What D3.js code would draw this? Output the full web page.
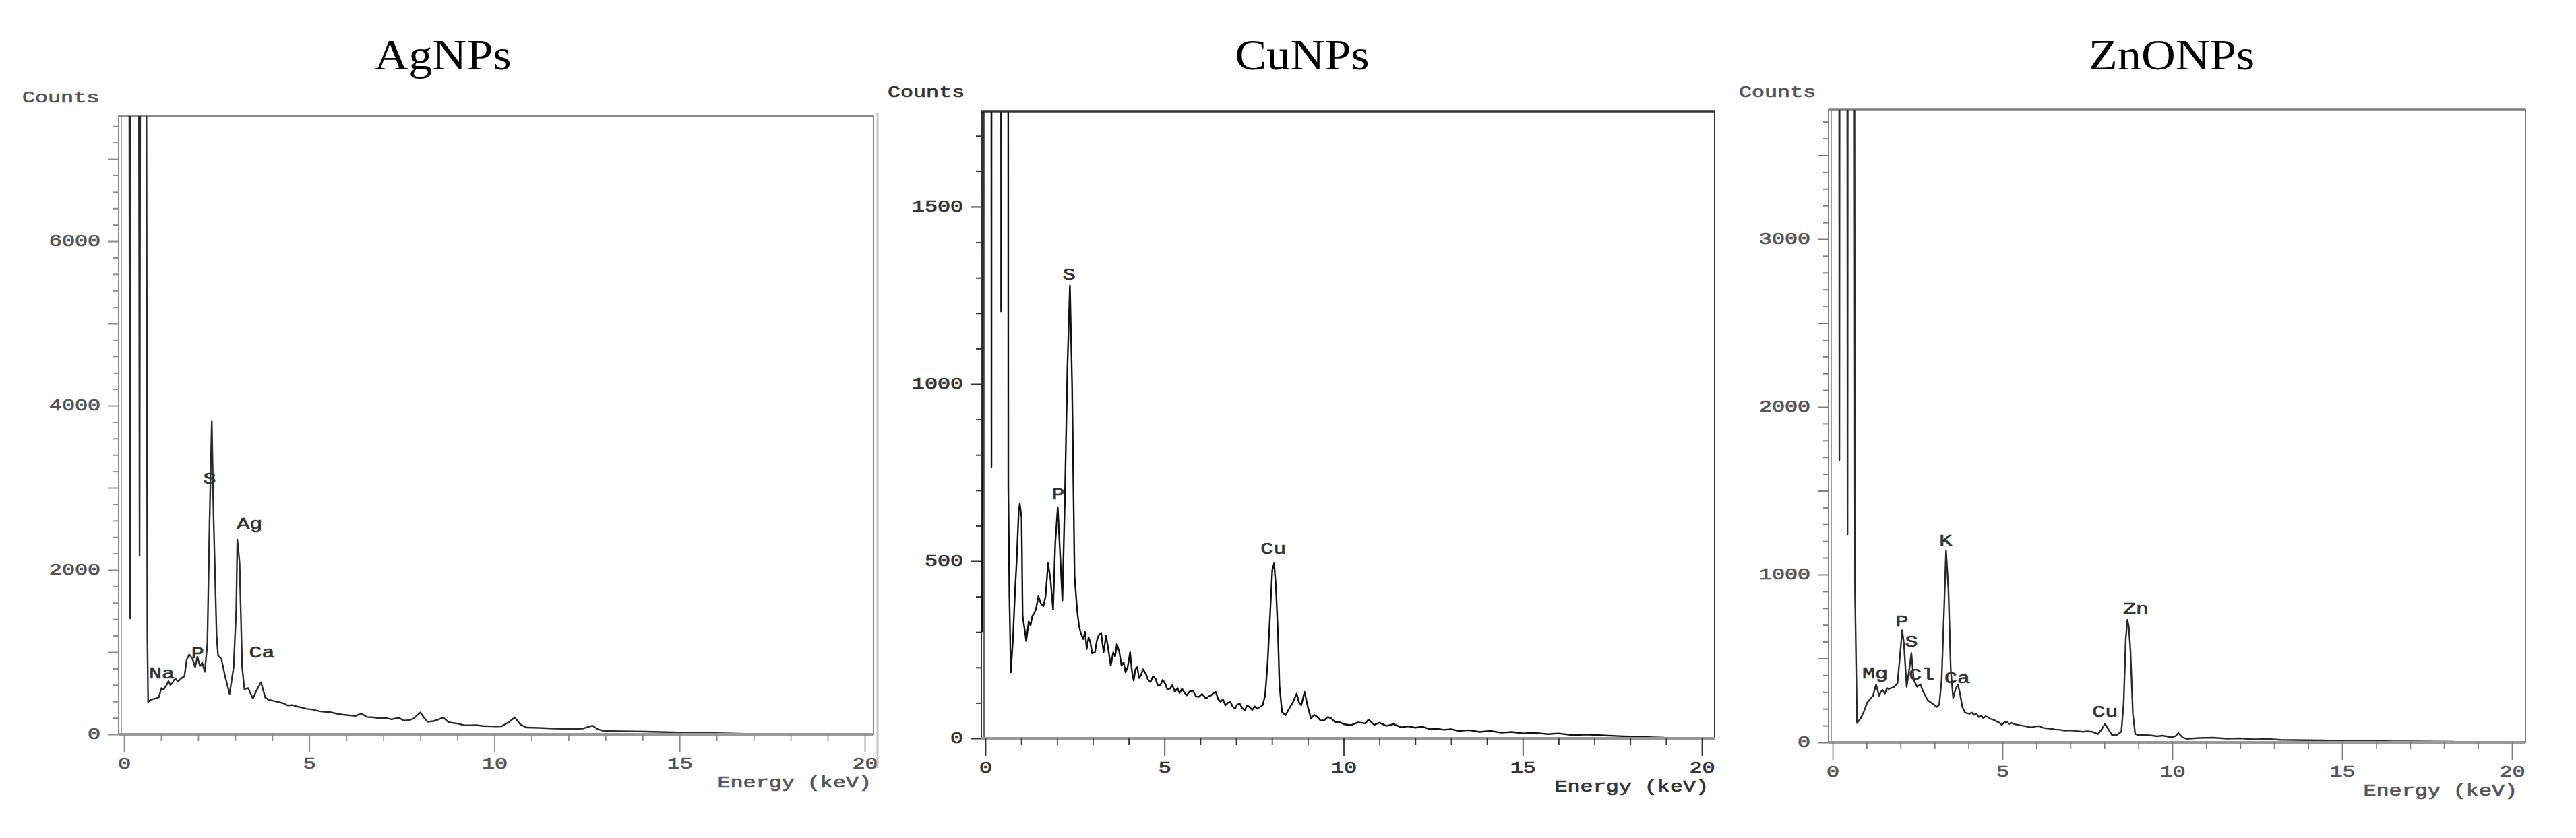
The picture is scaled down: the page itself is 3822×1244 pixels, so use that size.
<!DOCTYPE html>
<html>
<head>
<meta charset="utf-8">
<script src="https://cdn.jsdelivr.net/npm/d3@7"></script>
<style>
  html, body { margin: 0; padding: 0; background: #fff; }
  svg { display: block; }
</style>
</head>
<body>
<svg id="chart" width="3822" height="1244"></svg>
<script>
// ---------------- DATA (energy keV, counts) ----------------
const panelTitles = ["AgNPs", "CuNPs", "ZnONPs"];
const xTickLabels = [0, 5, 10, 15, 20];
const dateStamps = ["(2/4/10 04:25)", "(2/4/10 04:37)", ""];

const agSpectrum = [
  [0.00, 9000],[0.14, 9000],[0.16, 1410],[0.18, 9000],[0.40, 9000],[0.42, 2170],[0.44, 9000],
  [0.60, 9000],[0.63, 1200],[0.65, 393],[0.72, 420],[0.80, 430],[0.88, 440],[0.94, 449],
  [1.01, 562],[1.07, 545],[1.14, 590],[1.20, 647],[1.25, 600],[1.30, 619],[1.35, 660],
  [1.40, 675],[1.45, 640],[1.50, 660],[1.57, 690],[1.63, 703],[1.69, 901],[1.76, 971],
  [1.85, 915],[1.92, 816],[1.98, 943],[2.05, 830],[2.11, 872],[2.18, 760],[2.25, 1100],
  [2.31, 2600],[2.37, 3808],[2.42, 2600],[2.50, 1200],[2.54, 957],[2.63, 915],[2.73, 703],
  [2.85, 492],[2.96, 816],[3.03, 1521],[3.06, 2369],[3.12, 2086],[3.19, 816],[3.25, 548],
  [3.35, 562],[3.48, 435],[3.58, 534],[3.70, 633],[3.81, 449],[3.90, 421],[4.03, 407],
  [4.15, 395],[4.29, 379],[4.42, 350],[4.55, 355],[4.68, 336],[4.80, 325],[4.94, 308],
  [5.10, 300],[5.27, 280],[5.45, 272],[5.60, 266],[5.75, 250],[5.92, 238],[6.10, 230],
  [6.25, 223],[6.41, 252],[6.50, 225],[6.57, 209],[6.75, 205],[6.90, 195],[7.05, 200],
  [7.22, 181],[7.42, 201],[7.55, 167],[7.70, 170],[7.81, 190],[8.00, 266],[8.12, 190],
  [8.20, 152],[8.35, 160],[8.46, 175],[8.62, 203],[8.75, 150],[8.85, 139],[9.00, 130],
  [9.17, 111],[9.35, 110],[9.50, 111],[9.70, 100],[9.89, 97],[10.05, 95],[10.20, 98],
  [10.40, 150],[10.55, 205],[10.70, 120],[10.87, 82],[11.20, 78],[11.50, 72],[11.80, 68],
  [12.10, 65],[12.40, 70],[12.65, 105],[12.80, 60],[12.95, 41],[13.40, 38],[14.10, 33],
  [14.80, 25],[15.50, 18],[16.20, 12],[16.80, 6]
];

const cuSpectrum = [
  [-0.09, 300],[-0.07, 785],[-0.06, 9000],[0.15, 9000],[0.17, 766],[0.185, 9000],[0.42, 9000],
  [0.44, 1205],[0.46, 9000],[0.62, 9000],[0.64, 709],[0.67, 401],[0.71, 186],[0.77, 280],
  [0.83, 420],[0.875, 504],[0.93, 640],[0.96, 662],[1.01, 623],[1.04, 345],[1.11, 298],
  [1.14, 274],[1.21, 330],[1.26, 318],[1.31, 345],[1.36, 352],[1.41, 363],[1.48, 401],
  [1.55, 380],[1.62, 373],[1.68, 401],[1.75, 494],[1.82, 447],[1.89, 363],[1.95, 550],
  [2.02, 652],[2.09, 512],[2.15, 389],[2.22, 681],[2.29, 1045],[2.36, 1278],[2.42, 1002],
  [2.49, 457],[2.56, 363],[2.61, 320],[2.66, 298],[2.73, 280],[2.78, 300],[2.83, 252],
  [2.88, 285],[2.93, 271],[2.98, 240],[3.06, 243],[3.11, 275],[3.16, 290],[3.23, 298],
  [3.30, 243],[3.37, 290],[3.43, 252],[3.50, 205],[3.57, 243],[3.62, 230],[3.67, 266],
  [3.74, 243],[3.80, 205],[3.86, 215],[3.91, 186],[3.97, 200],[4.04, 243],[4.09, 190],
  [4.14, 163],[4.19, 195],[4.24, 201],[4.29, 170],[4.34, 177],[4.40, 195],[4.48, 182],
  [4.54, 165],[4.61, 159],[4.68, 175],[4.75, 168],[4.81, 150],[4.88, 149],[4.95, 165],
  [5.02, 154],[5.08, 138],[5.15, 140],[5.22, 150],[5.29, 131],[5.36, 142],[5.42, 128],
  [5.49, 140],[5.55, 130],[5.62, 121],[5.70, 132],[5.79, 135],[5.88, 118],[5.96, 117],
  [6.05, 125],[6.16, 112],[6.23, 118],[6.30, 121],[6.37, 128],[6.43, 131],[6.50, 110],
  [6.57, 103],[6.63, 110],[6.70, 93],[6.77, 100],[6.84, 103],[6.90, 90],[6.97, 84],
  [7.03, 95],[7.10, 98],[7.17, 85],[7.24, 79],[7.30, 92],[7.37, 89],[7.45, 80],[7.52, 90],
  [7.58, 84],[7.66, 88],[7.74, 93],[7.81, 121],[7.88, 215],[7.95, 354],[8.01, 476],
  [8.06, 494],[8.11, 429],[8.17, 290],[8.21, 149],[8.28, 75],[8.38, 65],[8.48, 84],
  [8.59, 103],[8.69, 126],[8.75, 103],[8.82, 93],[8.91, 131],[8.99, 93],[9.09, 56],
  [9.18, 66],[9.26, 61],[9.36, 50],[9.46, 51],[9.56, 60],[9.66, 56],[9.77, 45],[9.87, 47],
  [10.0, 40],[10.2, 37],[10.4, 45],[10.6, 42],[10.7, 53],[10.85, 38],[11.0, 44],[11.2, 35],
  [11.4, 40],[11.6, 31],[11.8, 34],[12.0, 30],[12.2, 33],[12.4, 26],[12.6, 27],[12.8, 24],
  [13.0, 26],[13.2, 21],[13.5, 23],[13.8, 18],[14.1, 21],[14.4, 16],[14.7, 18],[15.0, 14],
  [15.3, 16],[15.7, 12],[16.0, 14],[16.4, 9],[16.8, 11],[17.3, 8],[17.8, 6],[18.2, 5],
  [18.6, 3],[18.95, 2]
];

const znSpectrum = [
  [0.00, 9000],[0.18, 9000],[0.20, 1683],[0.22, 9000],[0.42, 9000],[0.44, 1241],[0.46, 9000],
  [0.62, 9000],[0.66, 900],[0.72, 115],[0.82, 142],[0.92, 183],[1.02, 237],[1.13, 264],
  [1.19, 278],[1.28, 345],[1.37, 278],[1.42, 300],[1.47, 312],[1.54, 291],[1.60, 325],
  [1.64, 318],[1.74, 325],[1.81, 331],[1.91, 352],[1.98, 507],[2.05, 669],[2.10, 588],
  [2.18, 331],[2.25, 425],[2.32, 532],[2.39, 372],[2.49, 331],[2.59, 345],[2.66, 305],
  [2.80, 251],[2.94, 231],[3.07, 211],[3.14, 224],[3.21, 372],[3.28, 778],[3.34, 1143],
  [3.41, 913],[3.48, 426],[3.55, 264],[3.62, 318],[3.69, 345],[3.75, 291],[3.82, 211],
  [3.90, 177],[4.03, 170],[4.10, 178],[4.16, 164],[4.23, 172],[4.30, 151],[4.37, 160],
  [4.44, 144],[4.50, 155],[4.57, 151],[4.64, 140],[4.71, 137],[4.80, 128],[4.91, 117],
  [4.98, 104],[5.05, 118],[5.12, 124],[5.20, 110],[5.26, 117],[5.36, 108],[5.46, 104],
  [5.57, 100],[5.67, 97],[5.77, 92],[5.87, 90],[5.97, 95],[6.08, 97],[6.18, 88],[6.28, 84],
  [6.40, 82],[6.55, 77],[6.70, 75],[6.83, 70],[6.97, 72],[7.10, 70],[7.23, 66],[7.37, 63],
  [7.50, 66],[7.65, 63],[7.82, 50],[7.92, 77],[8.02, 111],[8.12, 77],[8.23, 43],[8.36, 43],
  [8.50, 63],[8.57, 237],[8.63, 615],[8.68, 730],[8.72, 690],[8.77, 545],[8.84, 170],
  [8.91, 50],[9.01, 43],[9.15, 46],[9.28, 43],[9.42, 40],[9.56, 36],[9.70, 40],[9.83, 36],
  [9.97, 30],[10.10, 38],[10.18, 56],[10.30, 30],[10.43, 21],[10.80, 26],[11.20, 28],
  [11.60, 22],[12.00, 24],[12.40, 18],[12.80, 20],[13.20, 15],[13.60, 14],[14.00, 13],
  [14.40, 12],[14.80, 10],[15.20, 10],[15.60, 9],[16.00, 8],[16.50, 6],[17.00, 6],
  [17.60, 5],[18.30, 4]
];

// peak annotations: [element, energy keV, counts]
const agLabels = [["Na", 1.02, 730],["P", 1.99, 975],["S", 2.31, 3098],["Ag", 3.39, 2549],["Ca", 3.72, 984]];
const cuLabels = [["S", 2.34, 1306],["P", 2.03, 686],["Cu", 8.04, 532]];
const znLabels = [["Mg", 1.25, 406],["P", 2.04, 715],["S", 2.32, 594],["Cl", 2.62, 398],
                  ["K", 3.33, 1197],["Ca", 3.67, 378],["Cu", 8.02, 177],["Zn", 8.93, 791]];

const agYLabels = [0, 2000, 4000, 6000];
const cuYLabels = [0, 500, 1000, 1500];
const znYLabels = [0, 1000, 2000, 3000];

// ---------------- LAYOUT ----------------
const panels = [
  { title: panelTitles[0], titleX: 657, date: dateStamps[0], dateX: 203, dateY: 131, dateClip: 129,
    data: agSpectrum, labels: agLabels, yLabels: agYLabels,
    yMax: 7525, yMinor: 200, yMajor: 1000,
    left: 176, right: 1296, top: 172, x0: 184, x20: 1283, y0: 1090,
    countsX: 33, countsY: 146, energyX: 1293, edge: null,
    frame: "#8c8c8c", line: "#2a2a2a", text: "#555" },
  { title: panelTitles[1], titleX: 1932, date: dateStamps[1], dateX: 1478, dateY: 123, dateClip: 124,
    data: cuSpectrum, labels: cuLabels, yLabels: cuYLabels,
    yMax: 1768, yMinor: 100, yMajor: 500,
    left: 1456, right: 2544, top: 166, x0: 1462, x20: 2525, y0: 1096,
    countsX: 1317, countsY: 138, energyX: 2535, edge: 1302,
    frame: "#333", line: "#111", text: "#333" },
  { title: panelTitles[2], titleX: 3222, date: dateStamps[2], dateX: 0, dateY: 0, dateClip: 0,
    data: znSpectrum, labels: znLabels, yLabels: znYLabels,
    yMax: 3771, yMinor: 100, yMajor: 500,
    left: 2713, right: 3747, top: 163, x0: 2719, x20: 3727, y0: 1102,
    countsX: 2580, countsY: 138, energyX: 3735, edge: null,
    frame: "#7d7d7d", line: "#2a2a2a", text: "#555" }
];

const MONO = "'Liberation Mono', 'DejaVu Sans Mono', monospace";
const FS = 23, SX = 1.38, TSW = 0.7;

const svg = d3.select("#chart");
svg.append("rect").attr("width", 3822).attr("height", 1244).attr("fill", "#fff");
const defs = svg.append("defs");

function monoText(sel, color) {
  return sel.attr("font-family", MONO).attr("font-size", FS)
    .attr("fill", color).attr("stroke", color).attr("stroke-width", TSW);
}

panels.forEach((p, i) => {
  const g = svg.append("g");
  const x = d3.scaleLinear().domain([0, 20]).range([p.x0, p.x20]);
  const y = d3.scaleLinear().domain([0, p.yMax]).range([p.y0, p.top]);

  // scan edge of the pasted image
  if (p.edge !== null) {
    g.append("line").attr("x1", p.edge).attr("x2", p.edge).attr("y1", 168).attr("y2", 1140)
      .attr("stroke", "#c4c4c4").attr("stroke-width", 3);
  }

  // Title
  g.append("text")
    .attr("transform", `translate(${p.titleX},103) scale(1.1,1)`)
    .attr("text-anchor", "middle")
    .attr("font-family", "'Liberation Serif', 'Times New Roman', serif")
    .attr("font-size", 64).attr("fill", "#000")
    .text(p.title);

  // Counts label
  monoText(g.append("text"), p.text)
    .attr("transform", `translate(${p.countsX},${p.countsY}) scale(${SX},1)`)
    .attr("dominant-baseline", "central")
    .text("Counts");

  // Date stamp (partially cut off at the top)
  if (p.date) {
    const cid = "dclip" + i;
    defs.append("clipPath").attr("id", cid).append("rect")
      .attr("x", p.dateX - 10).attr("y", p.dateClip).attr("width", 400).attr("height", 40);
    monoText(g.append("text"), "#a0a0a0")
      .attr("clip-path", `url(#${cid})`)
      .attr("transform", `translate(${p.dateX},${p.dateY}) scale(${SX},1)`)
      .attr("dominant-baseline", "central")
      .text(p.date);
  }

  // Frame
  g.append("rect")
    .attr("x", p.left).attr("y", p.top)
    .attr("width", p.right - p.left).attr("height", p.y0 - p.top)
    .attr("fill", "none").attr("stroke", p.frame).attr("stroke-width", 2);
  g.append("line").attr("x1", p.left).attr("x2", p.right).attr("y1", p.top).attr("y2", p.top)
    .attr("stroke", p.frame).attr("stroke-width", 3.5);
  g.append("line").attr("x1", p.left + 4).attr("x2", p.left + 4).attr("y1", p.top).attr("y2", p.y0)
    .attr("stroke", p.frame).attr("stroke-width", 1.5);

  // Spectrum (clipped to the frame)
  const cid = "pclip" + i;
  defs.append("clipPath").attr("id", cid).append("rect")
    .attr("x", p.left).attr("y", p.top).attr("width", p.right - p.left).attr("height", p.y0 - p.top);
  const line = d3.line().x(d => x(d[0])).y(d => y(d[1]));
  g.append("path")
    .datum(p.data)
    .attr("clip-path", `url(#${cid})`)
    .attr("d", line)
    .attr("fill", "none").attr("stroke", p.line).attr("stroke-width", 2.4)
    .attr("stroke-linejoin", "round");

  // X axis
  const xAxis = d3.axisBottom(x)
    .tickValues(d3.range(0, 21, 1))
    .tickSize(10)
    .tickFormat(d => xTickLabels.includes(d) ? String(d) : "");
  const xg = g.append("g").attr("transform", `translate(0,${p.y0})`).call(xAxis);
  xg.select(".domain")
    .attr("d", `M${p.left},0H${p.right}`)
    .attr("stroke", "#999").attr("stroke-width", 4);
  xg.selectAll(".tick line").attr("stroke", p.frame).attr("stroke-width", 1.8)
    .attr("y2", d => (d % 5 === 0 ? 26 : 10));
  monoText(xg.selectAll(".tick text"), p.text)
    .attr("y", 0).attr("dy", null)
    .attr("transform", `translate(0,45) scale(${SX},1)`)
    .attr("dominant-baseline", "central");

  // Energy label
  monoText(g.append("text"), p.text)
    .attr("transform", `translate(${p.energyX},${p.y0 + 73}) scale(${SX},1)`)
    .attr("text-anchor", "end").attr("dominant-baseline", "central")
    .text("Energy (keV)");

  // Y axis
  const yTicks = d3.range(0, p.yMax, p.yMinor);
  const yAxis = d3.axisLeft(y)
    .tickValues(yTicks)
    .tickSize(8)
    .tickFormat(d => p.yLabels.includes(d) ? String(d) : "");
  const yg = g.append("g").attr("transform", `translate(${p.left},0)`).call(yAxis);
  yg.select(".domain").remove();
  yg.selectAll(".tick line").attr("stroke", p.frame).attr("stroke-width", 2)
    .attr("x2", d => (Math.abs(d % p.yMajor) < 1e-6 ? -16 : -8));
  monoText(yg.selectAll(".tick text"), p.text)
    .attr("x", 0).attr("dy", null)
    .attr("transform", `translate(-27,0) scale(${SX},1)`)
    .attr("text-anchor", "end").attr("dominant-baseline", "central");

  // Peak labels
  monoText(g.selectAll(".peak").data(p.labels).join("text"), "#333")
    .attr("transform", d => `translate(${x(d[1])},${y(d[2])}) scale(${SX},1)`)
    .attr("text-anchor", "middle").attr("dominant-baseline", "central")
    .text(d => d[0]);
});
</script>
</body>
</html>
